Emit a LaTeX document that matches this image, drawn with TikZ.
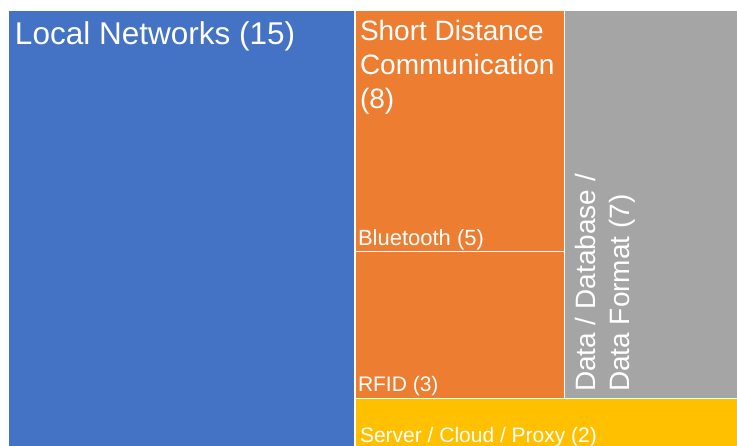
\documentclass[tikz,border=0pt]{standalone}
\usepackage{fontspec}
\setmainfont{Liberation Sans}
\definecolor{tmblue}{HTML}{4472C4}
\definecolor{tmorange}{HTML}{ED7D31}
\definecolor{tmgray}{HTML}{A5A5A5}
\definecolor{tmyellow}{HTML}{FFC000}
\tikzset{
  cell/.style={draw=white, line width=1.2pt},
  lbl/.style={text=white, inner sep=0pt, outer sep=0pt, anchor=base west, align=left},
}
\begin{document}
\begin{tikzpicture}[x=1pt,y=1pt]
\useasboundingbox (0,0) rectangle (737,446);
\fill[white] (0,0) rectangle (737,446);
\clip (0,0) rectangle (737,446);
% cells
\filldraw[cell, fill=tmblue]   (8,-10) rectangle (355,436);
\filldraw[cell, fill=tmorange] (355,194.3) rectangle (564.5,436);
\filldraw[cell, fill=tmorange] (355,47.7) rectangle (564.5,194.3);
\filldraw[cell, fill=tmgray]   (564.5,47.7) rectangle (745,436);
\filldraw[cell, fill=tmyellow] (355,-10) rectangle (745,47.7);
% labels
\node[lbl, font=\fontsize{31.5}{38}\selectfont] (local) at (15,401) {Local Networks (15)};
\node[lbl, font=\fontsize{28}{34}\selectfont] (sdc) at (360,337) {Short Distance\\Communication\\(8)};
\node[lbl, font=\fontsize{22}{26}\selectfont] (bt) at (358,200) {Bluetooth (5)};
\node[lbl, font=\fontsize{21}{25}\selectfont] (rfid) at (358,54.3) {RFID (3)};
\node[lbl, font=\fontsize{21}{25}\selectfont] (srv) at (360,3.3) {Server / Cloud / Proxy (2)};
\node[lbl, rotate=90, font=\fontsize{28}{34}\selectfont] (data) at (629.5,54) {Data / Database /\\Data Format (7)};
\end{tikzpicture}
\end{document}
